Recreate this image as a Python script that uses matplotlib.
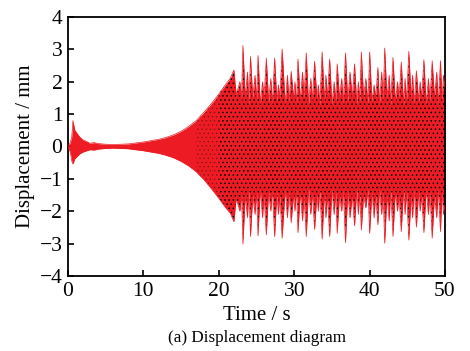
import numpy as np
import matplotlib
matplotlib.use('Agg')
import matplotlib.pyplot as plt

# === DADOS (envelope do deslocamento) === #

# trecho inicial: transitório + crescimento até 22 s
t_inicio = [0.0, 0.3, 0.5, 0.65, 0.9, 1.15, 1.6, 2.0, 2.5, 2.9, 3.5, 4.0, 5.0, 6.0, 7.0,
            8.0, 9.0, 10.0, 11.0, 12.0, 13.0, 14.0, 15.0, 16.0, 17.0, 18.0, 19.0,
            20.0, 21.0, 21.5, 22.0]
sup_inicio = [0.0, 0.12, 0.3, 0.8, 0.5, 0.42, 0.28, 0.2, 0.15, 0.1, 0.12, 0.09, 0.07, 0.06, 0.07,
              0.08, 0.11, 0.14, 0.18, 0.22, 0.28, 0.36, 0.47, 0.62, 0.8, 1.05, 1.32,
              1.62, 1.95, 2.1, 2.36]
inf_inicio = [0.0, -0.18, -0.45, -0.54, -0.38, -0.32, -0.22, -0.17, -0.13, -0.1, -0.11, -0.08, -0.06, -0.05, -0.06,
              -0.07, -0.1, -0.13, -0.17, -0.21, -0.27, -0.35, -0.46, -0.6, -0.78, -1.02, -1.3,
              -1.6, -1.92, -2.05, -2.32]

# trecho de batimento: picos (agulhas) após 22 s
t_picos = [23.2, 24.2, 25.2, 26.3, 27.4, 28.4, 29.6, 30.5, 31.6, 32.7, 33.7, 34.7, 35.7,
           36.8, 38.0, 38.9, 40.0, 41.1, 42.0, 43.1, 44.2, 45.2, 46.2, 47.2, 48.3, 49.4]
sup_picos = [3.12, 2.78, 2.81, 2.73, 2.73, 3.01, 2.32, 2.70, 2.89, 2.63, 2.92, 2.70, 2.55,
             2.89, 2.55, 2.92, 2.92, 2.44, 3.04, 2.75, 2.61, 2.94, 2.34, 2.68, 2.65, 2.65]
inf_picos = [-3.01, -2.78, -2.76, -2.73, -2.78, -2.83, -2.35, -2.66, -2.78, -2.56, -2.86, -2.78, -2.68,
             -2.97, -2.45, -2.58, -2.68, -2.42, -2.99, -2.78, -2.63, -2.89, -2.49, -2.66, -2.83, -2.63]

# agulhas menores entre os picos principais
t_sec = [22.8, 23.8, 24.8, 25.8, 26.9, 27.9, 29.1, 30.1, 31.1, 32.2, 33.2, 34.2, 35.3,
         36.3, 37.4, 38.5, 39.5, 40.6, 41.6, 42.6, 43.7, 44.7, 45.7, 46.7, 47.8, 48.9, 49.8]
sup_sec = [2.00, 2.30, 2.20, 2.00, 2.10, 1.90, 2.20, 2.00, 2.30, 2.10, 1.90, 2.20, 2.00,
           2.10, 2.30, 2.00, 2.10, 1.90, 2.30, 2.20, 2.00, 2.10, 2.20, 2.00, 2.10, 2.30, 2.20]
inf_sec = [-2.00, -2.20, -2.10, -2.20, -2.00, -2.10, -2.20, -2.00, -2.30, -2.10, -2.00, -2.20, -2.10,
           -2.00, -2.20, -2.10, -1.90, -2.20, -2.10, -2.30, -2.00, -2.10, -2.20, -2.00, -2.10, -2.20, -2.10]

# vales (fendas brancas) entre as agulhas
t_vales = [22.3, 23.0, 23.5, 24.0, 24.5, 25.0, 25.5, 26.0, 26.6, 27.1, 27.7, 28.1, 28.8,
           29.3, 29.9, 30.3, 30.8, 31.3, 31.9, 32.4, 33.0, 33.4, 34.0, 34.4, 35.0, 35.5,
           36.0, 36.5, 37.1, 37.7, 38.3, 38.7, 39.2, 39.8, 40.3, 40.8, 41.3, 41.8, 42.3,
           42.8, 43.4, 43.9, 44.5, 44.9, 45.5, 45.9, 46.5, 46.9, 47.5, 48.0, 48.6, 49.1,
           49.6, 50.0]
sup_vales = [1.60, 1.40, 1.50, 1.30, 1.50, 1.40, 1.30, 1.50, 1.40, 1.30, 1.40, 1.50, 1.30,
             1.40, 1.50, 1.30, 1.40, 1.50, 1.30, 1.40, 1.50, 1.30, 1.40, 1.50, 1.30, 1.40,
             1.50, 1.30, 1.40, 1.50, 1.30, 1.40, 1.50, 1.30, 1.40, 1.50, 1.30, 1.40, 1.50,
             1.30, 1.40, 1.50, 1.30, 1.40, 1.50, 1.30, 1.40, 1.50, 1.30, 1.40, 1.50, 1.30,
             1.40, 1.80]
inf_vales = [-1.60, -1.40, -1.50, -1.30, -1.50, -1.40, -1.30, -1.50, -1.40, -1.30, -1.40, -1.50, -1.30,
             -1.40, -1.50, -1.30, -1.40, -1.50, -1.30, -1.40, -1.50, -1.30, -1.40, -1.50, -1.30, -1.40,
             -1.50, -1.30, -1.40, -1.50, -1.30, -1.40, -1.50, -1.30, -1.40, -1.50, -1.30, -1.40, -1.50,
             -1.30, -1.40, -1.50, -1.30, -1.40, -1.50, -1.30, -1.40, -1.50, -1.30, -1.40, -1.50, -1.30,
             -1.40, -1.80]

# === MONTA O ENVELOPE === #
t_bat = np.array(t_picos + t_sec + t_vales)
ordem = np.argsort(t_bat, kind='stable')
tempo = np.concatenate([t_inicio, t_bat[ordem]])
env_sup = np.concatenate([sup_inicio, np.array(sup_picos + sup_sec + sup_vales)[ordem]])
env_inf = np.concatenate([inf_inicio, np.array(inf_picos + inf_sec + inf_vales)[ordem]])

vermelho = '#ED1C24'

plt.rcParams['font.family'] = ['Liberation Serif', 'DejaVu Serif']
plt.rcParams['hatch.color'] = 'black'
plt.rcParams['hatch.linewidth'] = 0.6

fig = plt.figure(figsize=(4.7, 3.51), dpi=100)
ax = fig.add_axes([0.1447, 0.2137, 0.8021, 0.7379])

ax.fill_between(tempo, env_inf, env_sup, color=vermelho, linewidth=0, zorder=2)
# pontilhado preto (linha preta sob a tracejada vermelha), mais fraco no início
ax.fill_between(tempo, env_inf, env_sup, where=(tempo >= 17.0) & (tempo <= 20.0), facecolor='none',
                edgecolor='black', hatch='....', linewidth=0, zorder=3, alpha=0.3)
ax.fill_between(tempo, env_inf, env_sup, where=tempo >= 20.0, facecolor='none',
                edgecolor='black', hatch='....', linewidth=0, zorder=3)
ax.plot(tempo, env_sup, color=vermelho, lw=0.5, zorder=4)
ax.plot(tempo, env_inf, color=vermelho, lw=0.5, zorder=4)

ax.set_xlim(0, 50)
ax.set_ylim(-4, 4)
ax.set_xticks(np.arange(0, 51, 10))
ax.set_yticks(np.arange(-4, 5, 1))
ax.tick_params(direction='in', length=4, width=1.2, labelsize=15.5)
ax.tick_params(axis='x', pad=4)
ax.tick_params(axis='y', pad=4)
for lado in ax.spines.values():
    lado.set_linewidth(1.3)

ax.set_xlabel('Time / s', fontsize=15, labelpad=4)
ax.set_ylabel('Displacement / mm', fontsize=15, labelpad=3)
fig.text(0.546, 0.037, '(a) Displacement diagram', ha='center', va='center', fontsize=12.3)

fig.savefig('out.png', dpi=100)
